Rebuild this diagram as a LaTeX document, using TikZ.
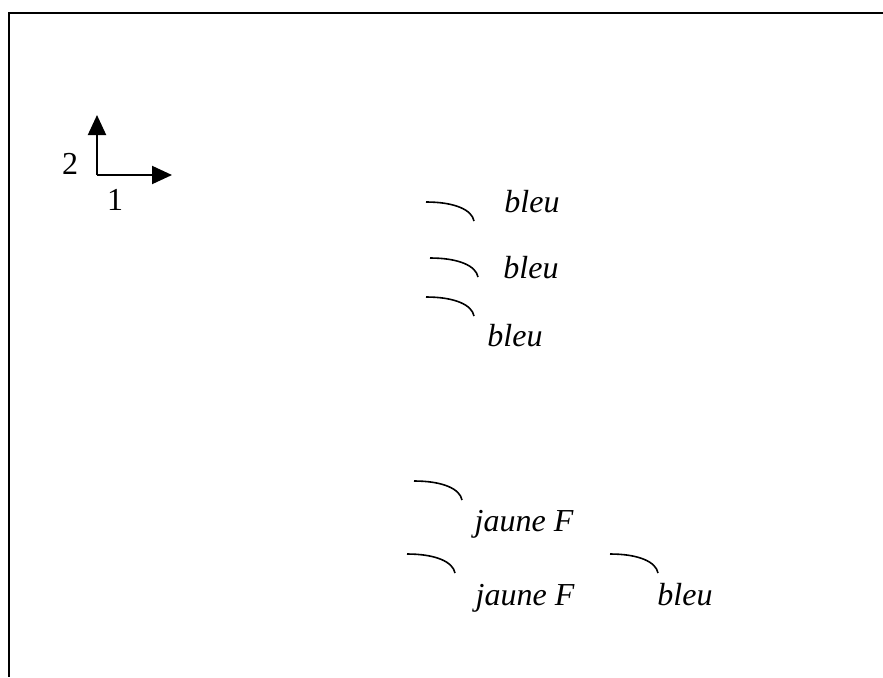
\documentclass[tikz,border=0pt]{standalone}
\usepackage{fontspec}
\setmainfont{Liberation Serif}
\usetikzlibrary{arrows.meta, positioning}

\begin{document}
\begin{tikzpicture}[
    x=1pt, y=-1pt,
    frame/.style={line width=2pt},
    axis/.style={-{Triangle[length=20pt,width=18pt]}, line width=2pt},
    swoosh/.style={line width=1.6pt},
    colname/.style={font=\fontsize{32}{38}\selectfont\itshape, inner sep=0pt, anchor=base},
    axnum/.style={font=\fontsize{32}{38}\selectfont, inner sep=0pt}
]
\useasboundingbox (0,0) rectangle (883,677);
\draw[frame] (883,13) -- (9,13) -- (9,677);

% axes
\coordinate (o) at (97,175);
\coordinate (ytip) at (97,115);
\coordinate (xtip) at (172,175);
\draw[axis] (o) -- (ytip);
\draw[axis] (o) -- (xtip);
\node[axnum] (two) at (70,164) {2};
\node[axnum] (one) at (115,200) {1};

% colours
\node[colname] (bleua) at (532,212) {bleu};
\node[colname] (bleub) at (531,278) {bleu};
\node[colname] (bleuc) at (515,346) {bleu};
\node[colname] (jaunea) at (524,531) {jaune F};
\node[colname] (jauneb) at (525,605) {jaune F};
\node[colname] (bleud) at (685,605) {bleu};

\foreach \sx/\sy in {426/202, 430/258, 426/297, 414/481, 407/554, 610/554}
  \draw[swoosh] (\sx,\sy) .. controls (\sx+29,\sy) and (\sx+46,\sy+8) .. (\sx+48,\sy+19);
\end{tikzpicture}
\end{document}
